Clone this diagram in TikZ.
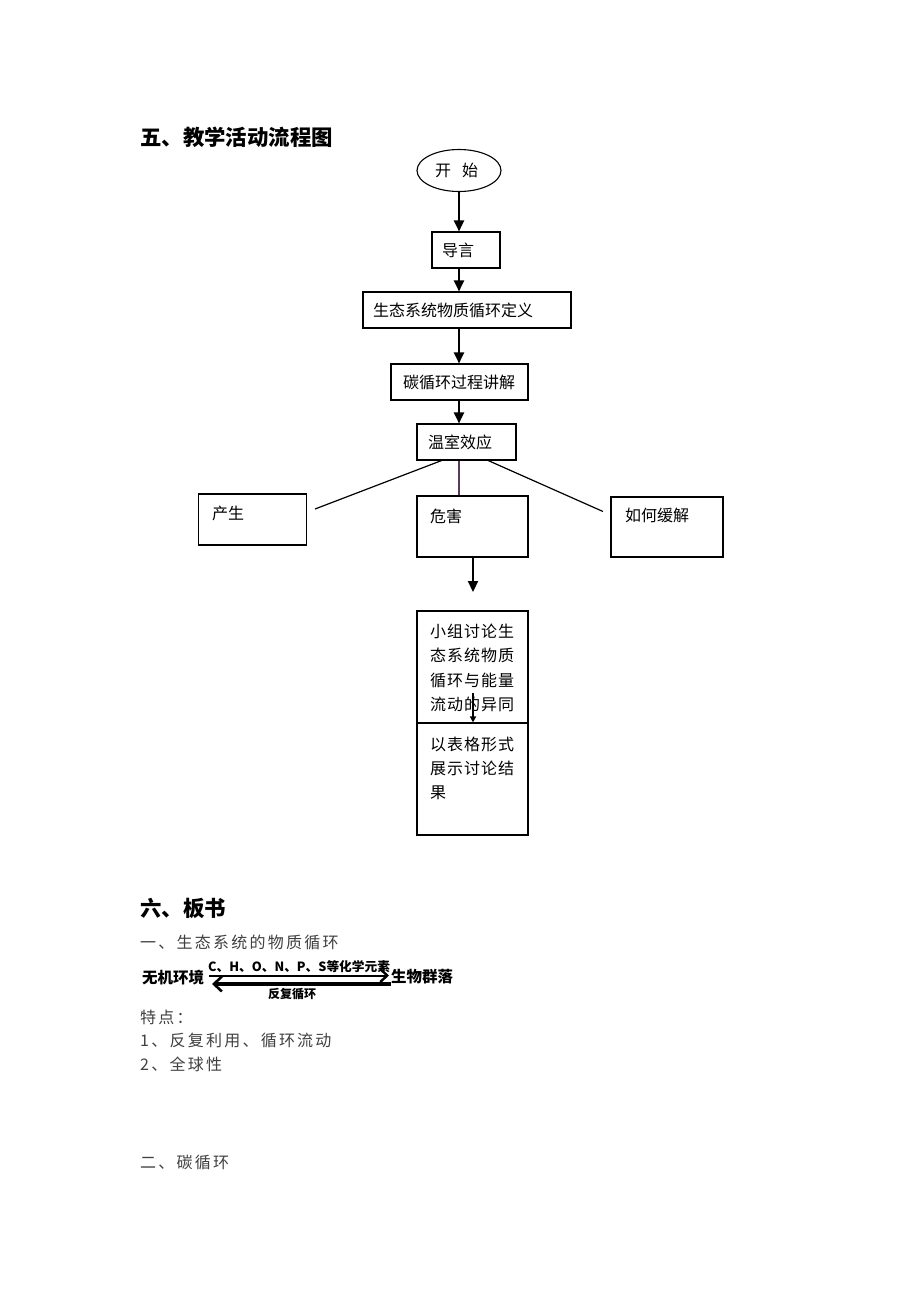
\documentclass[tikz,border=0pt]{standalone}
\usepackage{fontspec}
\setmainfont{Noto Sans CJK SC}
\usetikzlibrary{arrows.meta,shapes.geometric}
\tikzset{
  boxnode/.style={draw,line width=1.1pt,inner sep=0pt},
  flowtext/.style={font=\fontsize{16}{18}\selectfont,inner sep=0pt},
  spaced/.style={font=\fontsize{16}{24.3}\selectfont\addfontfeatures{LetterSpace=6},inner sep=0pt,anchor=north west,align=left},
  flowarrow/.style={line width=2.2pt,-{Triangle[width=10pt,length=11pt]}},
  thinline/.style={line width=1.2pt},
  heading/.style={font=\fontsize{21.4}{24}\selectfont\bfseries,inner sep=0pt,anchor=west},
  bodytext/.style={font=\fontsize{16}{20}\selectfont\addfontfeatures{LetterSpace=14},text=black!75,inner sep=0pt,anchor=west},
  boldsmall/.style={font=\fontsize{15.5}{18}\selectfont\bfseries,inner sep=0pt},
}
\begin{document}
\begin{tikzpicture}[x=1pt,y=-1pt]
\useasboundingbox[fill=white] (0,0) rectangle (920,1302);
\coordinate (axis) at (459,0);
% headings
\node[heading] (h1) at (140,137) {五、教学活动流程图};
% flowchart
\node[draw,ellipse,line width=1.1pt,minimum width=84pt,minimum height=42pt,inner sep=0pt] (start) at (459,170.5) {};
\node[flowtext,anchor=west] (startt) at (435,170.5) {开\hspace{11pt}始};
\node[boxnode,minimum width=68pt,minimum height=36pt] (daoyan) at (466,250) {};
\node[flowtext,anchor=west] (daoyant) at (442,250) {导言};
\node[boxnode,minimum width=208pt,minimum height=36pt] (dingyi) at (467,310) {};
\node[flowtext,anchor=west] (dingyit) at (373,310) {生态系统物质循环定义};
\node[boxnode,minimum width=137pt,minimum height=36pt] (tan) at (459.5,382) {};
\node[flowtext,anchor=west] (tant) at (403,382) {碳循环过程讲解};
\node[boxnode,minimum width=99pt,minimum height=36pt] (wenshi) at (466.5,442) {};
\node[flowtext,anchor=west] (wenshit) at (428,442) {温室效应};
\node[boxnode,minimum width=108pt,minimum height=51pt] (chan) at (252.5,519.5) {};
\node[flowtext,anchor=west] (chant) at (212,513) {产生};
\node[boxnode,minimum width=111pt,minimum height=61pt] (weihai) at (472.5,526.5) {};
\node[flowtext,anchor=west] (weihait) at (430,516) {危害};
\node[boxnode,minimum width=112pt,minimum height=60pt] (huan) at (667,527) {};
\node[flowtext,anchor=west] (huant) at (625,515) {如何缓解};
\node[boxnode,minimum width=111pt,minimum height=112pt] (xiaozu) at (472.5,667) {};
\node[spaced] (xiaozut) at (430,624) {小组讨论生\\态系统物质\\循环与能量\\流动的异同};
\node[boxnode,minimum width=111pt,minimum height=112pt] (biaoge) at (472.5,779) {};
\node[spaced] (biaoget) at (430,736.5) {以表格形式\\展示讨论结\\果};
% connectors
\draw[flowarrow] (start.south) -- (start.south |- daoyan.north);
\draw[flowarrow] (daoyan.south -| axis) -- (dingyi.north -| axis);
\draw[flowarrow] (dingyi.south -| axis) -- (tan.north -| axis);
\draw[flowarrow] (tan.south -| axis) -- (wenshi.north -| axis);
\coordinate (lstart) at (443,460);
\coordinate (rstart) at (487,460);
\coordinate (lend) at (315,509);
\coordinate (rend) at (603,511.5);
\draw[thinline] (lstart) -- (lend);
\draw[thinline] (rstart) -- (rend);
\draw[thinline,draw={rgb,255:red,90;green,60;blue,90}] (wenshi.south -| axis) -- (weihai.north -| axis);
\coordinate (wend) at (473,592);
\draw[flowarrow] (weihai.south -| wend) -- (wend);
\coordinate (inner) at (473,693);
\draw[line width=1.6pt,-{Triangle[width=6pt,length=6pt]}] (inner) -- (inner |- biaoge.north);
% board section
\node[heading] (h2) at (140,908) {六、板书};
\node[bodytext] (b1) at (140,942) {一、生态系统的物质循环};
\node[boldsmall,anchor=west] (wuji) at (142,978) {无机环境};
\node[boldsmall,anchor=west] (shengwu) at (391,977) {生物群落};
\coordinate (ua) at (209,975.5);
\coordinate (ub) at (389,975.5);
\coordinate (la) at (212,984);
\coordinate (lb) at (391,984);
\draw[line width=2pt,-{Straight Barb[length=7pt,width=13pt,line width=2.4pt]}] (ua) -- (ub);
\draw[line width=3.8pt,{Straight Barb[length=8pt,width=15pt,line width=2.6pt]}-] (la) -- (lb);
\node[font=\fontsize{12.7}{14}\selectfont\bfseries,inner sep=0pt,anchor=west] (elem) at (208,967) {C、H、O、N、P、S等化学元素};
\node[font=\fontsize{12}{14}\selectfont\bfseries,inner sep=0pt] (fufu) at (292,994) {反复循环};
\node[bodytext] (b2) at (140,1017) {特点：};
\node[bodytext] (b3) at (140,1040) {1、反复利用、循环流动};
\node[bodytext] (b4) at (140,1064) {2、全球性};
\node[bodytext] (b5) at (140,1162) {二、碳循环};
\end{tikzpicture}
\end{document}
